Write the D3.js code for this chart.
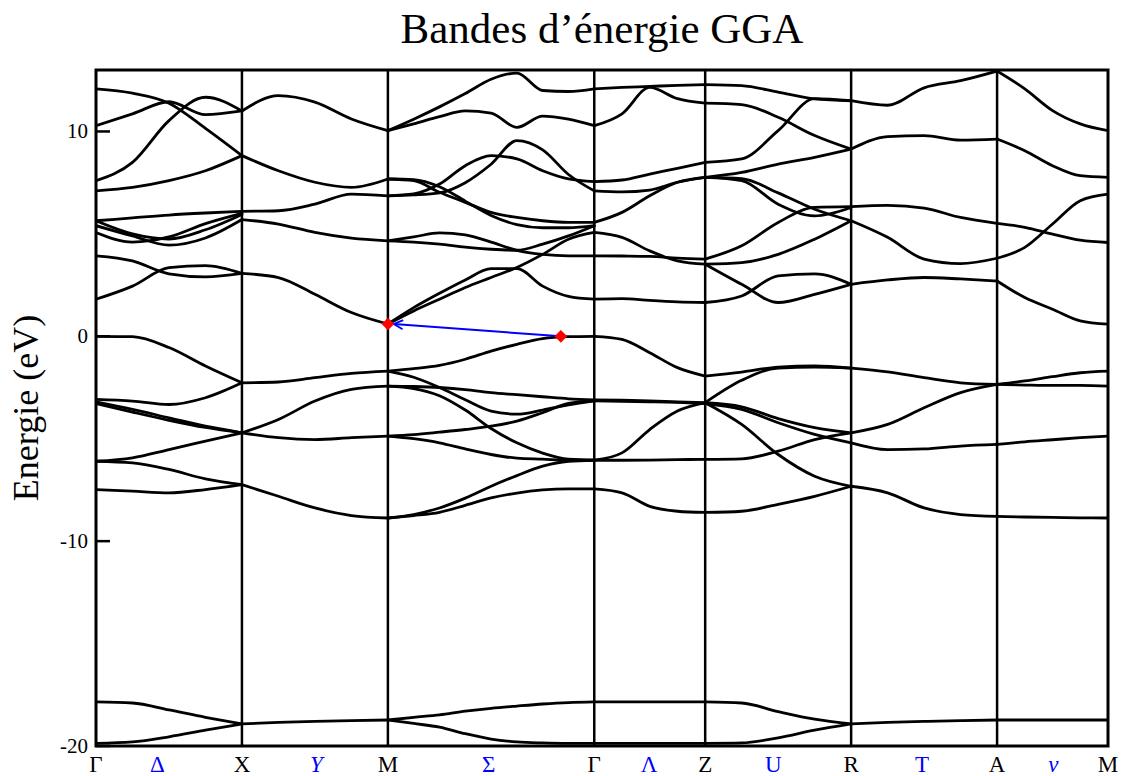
<!DOCTYPE html>
<html>
<head>
<meta charset="utf-8">
<script src="https://cdn.jsdelivr.net/npm/d3@7"></script>
<style>
  body { margin: 0; background: #fff; }
  text { font-family: "Liberation Serif", "Times New Roman", serif; }
</style>
</head>
<body>
<svg id="chart" width="1126" height="776"></svg>
<script>
// Path through the Brillouin zone (k in units of |Γ-X|)
const nodeK = [0, 1, 2, 3.414, 4.174, 5.174, 6.174, 6.934];
const nodeLabels = ["Γ", "X", "M", "Γ", "Z", "R", "A", "M"];
const lineLabels = ["Δ", "Y", "Σ", "Λ", "U", "T", "ν"];
const lineLabelK = [0.42, 1.51, 2.69, 3.79, 4.64, 5.66, 6.56];
const lineLabelItalic = [false, true, false, false, false, false, true];
const energyTicks = [-20, -10, 0, 10];

// Band energies (eV), sampled evenly along each segment of the path
const bandsGX = [
  [12.08, 11.87, 11.38, 10.15, 8.82],
  [10.28, 10.86, 11.45, 10.82, 11.0],
  [7.6, 8.49, 10.53, 11.67, 11.0],
  [7.1, 7.27, 7.6, 8.08, 8.82],
  [5.64, 5.78, 5.92, 6.02, 6.1],
  [5.64, 5.0, 4.75, 5.2, 5.95],
  [5.07, 4.6, 4.85, 5.5, 6.0],
  [5.4, 4.9, 4.45, 4.8, 5.7],
  [3.93, 3.68, 3.05, 2.9, 3.07],
  [1.81, 2.45, 3.35, 3.45, 3.07],
  [0.0, -0.02, -0.55, -1.45, -2.27],
  [-3.08, -3.16, -3.33, -3.0, -2.27],
  [-3.2, -3.57, -3.98, -4.39, -4.71],
  [-3.28, -3.7, -4.1, -4.45, -4.71],
  [-6.1, -5.93, -5.53, -5.12, -4.71],
  [-6.1, -6.18, -6.5, -6.96, -7.24],
  [-7.48, -7.56, -7.64, -7.48, -7.24],
  [-17.85, -17.9, -18.24, -18.6, -18.92],
  [-19.87, -19.8, -19.55, -19.23, -18.92]
];

const bandsXM = [
  [11.0, 11.75, 11.43, 10.61, 10.04],
  [8.82, 8.08, 7.52, 7.27, 7.68],
  [6.1, 6.13, 6.45, 6.94, 6.86],
  [5.7, 5.48, 5.07, 4.79, 4.66],
  [3.07, 2.87, 2.05, 1.16, 0.6],
  [-2.27, -2.23, -2.02, -1.81, -1.7],
  [-4.71, -4.06, -3.16, -2.59, -2.43],
  [-4.71, -4.95, -5.04, -4.95, -4.87],
  [-7.24, -7.81, -8.38, -8.75, -8.87],
  [-18.92, -18.85, -18.8, -18.76, -18.73]
];

const bandsMG = [
  [10.04, 10.6, 11.2, 11.85, 12.55, 12.85, 12.0, 11.95, 12.08],
  [10.04, 10.37, 10.72, 11.0, 10.9, 10.2, 10.75, 10.6, 10.28],
  [6.86, 6.9, 7.0, 7.5, 8.4, 9.55, 9.1, 7.9, 7.1],
  [6.86, 6.95, 7.43, 8.33, 8.82, 8.66, 8.08, 7.68, 7.55],
  [7.68, 7.6, 7.03, 6.54, 6.05, 5.8, 5.64, 5.56, 5.56],
  [7.68, 7.65, 7.3, 6.6, 5.9, 5.45, 5.3, 5.3, 5.4],
  [4.66, 4.85, 5.05, 4.95, 4.6, 4.2, 4.0, 3.93, 3.93],
  [4.66, 4.6, 4.5, 4.35, 4.25, 4.2, 4.5, 4.9, 5.4],
  [0.6, 1.4, 2.1, 2.75, 3.3, 3.3, 2.45, 1.95, 1.81],
  [0.6, 1.24, 1.81, 2.38, 2.87, 3.36, 4.0, 4.74, 5.07],
  [-1.7, -1.58, -1.42, -1.12, -0.72, -0.39, -0.11, -0.02, 0.0],
  [-1.7, -2.0, -2.5, -3.1, -3.65, -3.8, -3.6, -3.35, -3.15],
  [-2.43, -2.45, -2.5, -2.6, -2.75, -2.85, -2.95, -3.05, -3.1],
  [-2.43, -2.55, -2.9, -3.6, -4.5, -5.2, -5.7, -6.0, -6.05],
  [-4.87, -4.8, -4.68, -4.55, -4.39, -4.14, -3.73, -3.28, -3.15],
  [-4.87, -5.0, -5.2, -5.5, -5.77, -5.95, -6.0, -6.05, -6.05],
  [-8.87, -8.7, -8.38, -7.9, -7.32, -6.8, -6.34, -6.1, -6.05],
  [-8.87, -8.75, -8.59, -8.25, -7.89, -7.65, -7.5, -7.45, -7.45],
  [-18.73, -18.6, -18.48, -18.3, -18.16, -18.05, -17.95, -17.88, -17.85],
  [-18.73, -18.9, -19.08, -19.4, -19.66, -19.8, -19.85, -19.87, -19.87]
];

const bandsGZ = [
  [12.08, 12.15, 12.2, 12.25, 12.29],
  [10.28, 10.86, 12.15, 11.6, 11.38],
  [7.55, 7.63, 7.92, 8.2, 8.49],
  [7.1, 7.05, 7.14, 7.52, 7.76],
  [5.56, 6.05, 6.86, 7.52, 7.76],
  [5.07, 4.83, 4.17, 3.68, 3.52],
  [3.93, 3.92, 3.9, 3.82, 3.77],
  [1.81, 1.84, 1.75, 1.68, 1.65],
  [0.0, -0.15, -0.8, -1.53, -1.94],
  [-3.1, -3.12, -3.15, -3.2, -3.24],
  [-3.15, -3.17, -3.2, -3.23, -3.28],
  [-6.05, -6.05, -6.04, -6.02, -6.01],
  [-6.05, -5.69, -4.55, -3.65, -3.24],
  [-7.45, -7.64, -8.3, -8.54, -8.6],
  [-17.85, -17.85, -17.85, -17.85, -17.85],
  [-19.87, -19.87, -19.87, -19.87, -19.87]
];

const bandsZR = [
  [12.29, 12.24, 11.92, 11.59, 11.5],
  [11.38, 11.31, 10.69, 9.8, 9.14],
  [8.49, 8.66, 10.04, 11.6, 11.5],
  [7.76, 8.0, 8.41, 8.74, 9.14],
  [7.76, 7.6, 6.45, 5.88, 6.29],
  [7.76, 7.7, 7.0, 6.2, 5.64],
  [3.77, 4.42, 5.56, 6.29, 6.33],
  [3.52, 3.6, 4.0, 4.74, 5.64],
  [3.52, 2.54, 1.65, 2.05, 2.54],
  [1.65, 1.97, 2.95, 3.05, 2.54],
  [-1.94, -1.75, -1.5, -1.45, -1.55],
  [-3.24, -2.15, -1.55, -1.5, -1.55],
  [-3.24, -3.44, -4.02, -4.46, -4.71],
  [-3.28, -3.57, -4.22, -4.79, -5.2],
  [-6.01, -5.98, -5.61, -5.04, -4.71],
  [-3.24, -4.3, -5.77, -6.83, -7.32],
  [-8.6, -8.54, -8.2, -7.81, -7.32],
  [-17.85, -17.9, -18.32, -18.69, -18.92],
  [-19.87, -19.85, -19.6, -19.23, -18.92]
];

const bandsRA = [
  [11.5, 11.28, 12.13, 12.48, 12.95],
  [9.14, 9.75, 9.8, 9.58, 9.63],
  [6.33, 6.39, 6.26, 5.8, 5.51],
  [5.64, 4.83, 3.77, 3.55, 3.81],
  [2.54, 2.75, 2.87, 2.8, 2.7],
  [-1.55, -1.74, -2.02, -2.27, -2.35],
  [-4.71, -4.3, -3.49, -2.75, -2.35],
  [-5.2, -5.53, -5.5, -5.36, -5.28],
  [-7.32, -7.64, -8.38, -8.7, -8.79],
  [-18.92, -18.85, -18.8, -18.76, -18.73]
];

const bandsAM = [
  [12.95, 12.08, 11.02, 10.37, 10.04],
  [9.63, 9.06, 8.33, 7.84, 7.76],
  [5.51, 5.32, 4.99, 4.69, 4.58],
  [3.81, 4.34, 5.48, 6.62, 6.94],
  [2.7, 1.89, 1.32, 0.75, 0.59],
  [-2.35, -2.38, -2.4, -2.4, -2.43],
  [-2.35, -2.18, -1.97, -1.78, -1.7],
  [-5.28, -5.15, -5.05, -4.95, -4.87],
  [-8.79, -8.82, -8.84, -8.86, -8.87],
  [-18.73, -18.73, -18.73, -18.73, -18.73]
];

const segmentBands = [bandsGX, bandsXM, bandsMG, bandsGZ, bandsZR, bandsRA, bandsAM];

// Indirect gap: valence band maximum on Σ, conduction band minimum at M
const gapK = [3.185, 2.0];
const gapE = [0.0, 0.6];

const W = 1126, H = 776;
const plot = { left: 96, right: 1108, top: 70, bottom: 746 };

const svg = d3.select("#chart");
const x = d3.scaleLinear().domain([nodeK[0], nodeK[nodeK.length - 1]]).range([plot.left, plot.right]);
const y = d3.scaleLinear().domain([-20, 13]).range([plot.bottom, plot.top]);

svg.append("rect").attr("width", W).attr("height", H).attr("fill", "#fff");

const defs = svg.append("defs");
defs.append("clipPath").attr("id", "plot-clip")
  .append("rect")
  .attr("x", plot.left).attr("y", plot.top)
  .attr("width", plot.right - plot.left).attr("height", plot.bottom - plot.top);

// Band lines, one path per band per segment
const line = d3.line()
  .x(d => x(d[0]))
  .y(d => y(d[1]))
  .curve(d3.curveMonotoneX);

const bandLayer = svg.append("g").attr("clip-path", "url(#plot-clip)");
segmentBands.forEach((bands, s) => {
  const k0 = nodeK[s], k1 = nodeK[s + 1];
  bands.forEach(vals => {
    const n = vals.length;
    const pts = vals.map((e, i) => [k0 + (k1 - k0) * i / (n - 1), e]);
    bandLayer.append("path")
      .attr("d", line(pts))
      .attr("fill", "none")
      .attr("stroke", "#000")
      .attr("stroke-width", 2.8)
      .attr("stroke-linejoin", "round")
      .attr("stroke-linecap", "round");
  });
});

// High-symmetry vertical lines
svg.append("g").selectAll("line")
  .data(nodeK.slice(1, -1))
  .join("line")
  .attr("x1", d => x(d)).attr("x2", d => x(d))
  .attr("y1", plot.top).attr("y2", plot.bottom)
  .attr("stroke", "#000").attr("stroke-width", 2.5);

// Gap arrow (open head at the conduction band minimum) and band-edge markers
defs.append("marker")
  .attr("id", "arrowhead")
  .attr("viewBox", "0 0 12 12")
  .attr("refX", 11).attr("refY", 6)
  .attr("markerWidth", 12).attr("markerHeight", 12)
  .attr("markerUnits", "userSpaceOnUse")
  .attr("orient", "auto")
  .append("path")
  .attr("d", "M2,1.5 L11,6 L2,10.5")
  .attr("fill", "none")
  .attr("stroke", "#0000ff")
  .attr("stroke-width", 1.8);

svg.append("line")
  .attr("x1", x(gapK[0])).attr("y1", y(gapE[0]))
  .attr("x2", x(gapK[1]) + 6).attr("y2", y(gapE[1]))
  .attr("stroke", "#0000ff").attr("stroke-width", 2)
  .attr("marker-end", "url(#arrowhead)");

svg.append("g").selectAll("path")
  .data(gapK.map((k, i) => [k, gapE[i]]))
  .join("path")
  .attr("d", d3.symbol(d3.symbolSquare, 80))
  .attr("transform", d => `translate(${x(d[0])},${y(d[1])}) rotate(45)`)
  .attr("fill", "#ff0000");

// Frame
svg.append("rect")
  .attr("x", plot.left).attr("y", plot.top)
  .attr("width", plot.right - plot.left).attr("height", plot.bottom - plot.top)
  .attr("fill", "none").attr("stroke", "#000").attr("stroke-width", 3);

// Energy axis: inward ticks with labels
svg.append("g").selectAll("line")
  .data(energyTicks)
  .join("line")
  .attr("x1", plot.left).attr("x2", plot.left + 14)
  .attr("y1", d => y(d)).attr("y2", d => y(d))
  .attr("stroke", "#000").attr("stroke-width", 2.5);

svg.append("g").selectAll("text")
  .data(energyTicks)
  .join("text")
  .attr("x", plot.left - 8)
  .attr("y", d => y(d) + 7)
  .attr("text-anchor", "end")
  .attr("font-size", 21)
  .text(d => d);

// k-path labels
svg.append("g").selectAll("text")
  .data(nodeK)
  .join("text")
  .attr("x", d => x(d))
  .attr("y", 772)
  .attr("text-anchor", "middle")
  .attr("font-size", 23)
  .text((d, i) => nodeLabels[i]);

svg.append("g").selectAll("text")
  .data(lineLabelK)
  .join("text")
  .attr("x", d => x(d))
  .attr("y", 772)
  .attr("text-anchor", "middle")
  .attr("font-size", 23)
  .attr("font-style", (d, i) => lineLabelItalic[i] ? "italic" : "normal")
  .attr("fill", "#0000ff")
  .text((d, i) => lineLabels[i]);

// Title and axis label
svg.append("text")
  .attr("x", 602).attr("y", 43)
  .attr("text-anchor", "middle")
  .attr("font-size", 43)
  .text("Bandes d’énergie GGA");

svg.append("text")
  .attr("transform", "translate(38,408) rotate(-90)")
  .attr("text-anchor", "middle")
  .attr("font-size", 36)
  .text("Energie (eV)");
</script>
</body>
</html>
